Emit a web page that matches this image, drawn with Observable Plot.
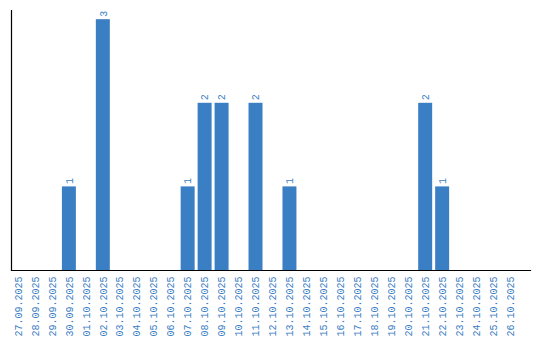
<!DOCTYPE html>
<html>
<head>
<meta charset="utf-8">
<script src="https://cdn.jsdelivr.net/npm/d3@7"></script>
<script src="https://cdn.jsdelivr.net/npm/@observablehq/plot@0.6"></script>
<style>
  html, body { margin: 0; padding: 0; background: #fff; }
</style>
</head>
<body>
<div id="chart"></div>
<script>
const dates = ["27.09.2025","28.09.2025","29.09.2025","30.09.2025","01.10.2025","02.10.2025","03.10.2025","04.10.2025","05.10.2025","06.10.2025","07.10.2025","08.10.2025","09.10.2025","10.10.2025","11.10.2025","12.10.2025","13.10.2025","14.10.2025","15.10.2025","16.10.2025","17.10.2025","18.10.2025","19.10.2025","20.10.2025","21.10.2025","22.10.2025","23.10.2025","24.10.2025","25.10.2025","26.10.2025"];
const counts = [0,0,0,1,0,3,0,0,0,0,1,2,2,0,2,0,1,0,0,0,0,0,0,0,2,1,0,0,0,0];

const data = dates.map((d, i) => ({date: d, count: counts[i]}));
const nonZero = data.filter(d => d.count > 0);
const blue = "#3a7ec3";

const chart = Plot.plot({
  width: 540,
  height: 340,
  marginLeft: 11,
  marginRight: 10,
  marginTop: 10,
  marginBottom: 70,
  style: {fontFamily: "'Liberation Mono', monospace", fontSize: "10px", background: "#fff"},
  x: {domain: dates, range: [11, 517], paddingInner: 0.1765, paddingOuter: 0, align: 0, round: false},
  y: {domain: [0, 3.11]},
  marks: [
    Plot.barY(nonZero, {x: "date", y: "count", fill: blue}),
    Plot.text(nonZero, {x: "date", y: "count", text: d => String(d.count), rotate: -90, textAnchor: "start", dy: -3, fill: blue, fontSize: 10}),
    Plot.axisX({tickRotate: -90, tickSize: 0, tickPadding: 6, fill: blue, fontSize: 10, label: null}),
    Plot.axisY({ticks: [], label: null}),
    Plot.frame({anchor: "bottom", stroke: "#000", strokeWidth: 1.2}),
    Plot.frame({anchor: "left", stroke: "#000", strokeWidth: 1.2})
  ]
});
document.getElementById("chart").appendChild(chart);
</script>
</body>
</html>
